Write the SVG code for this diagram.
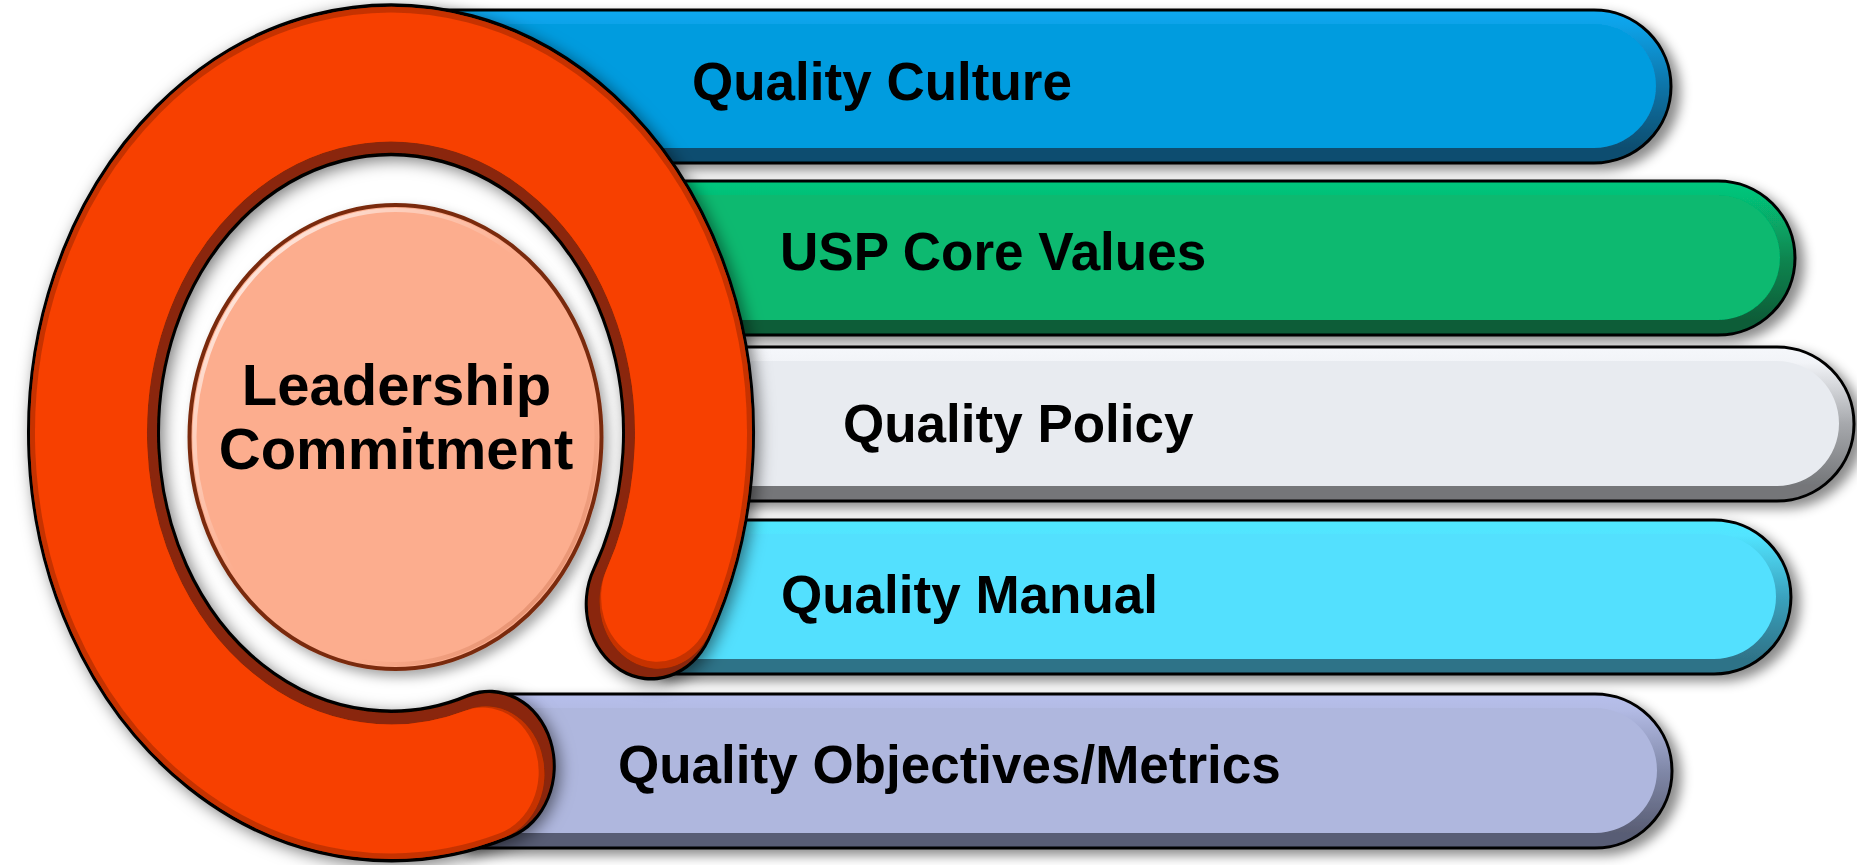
<svg xmlns="http://www.w3.org/2000/svg" width="1857" height="865" viewBox="0 0 1857 865">
<defs>
<style>
.lbl{font-family:"Liberation Sans",Arial,sans-serif;font-weight:bold;font-size:53px;fill:#000}
.ctr{font-family:"Liberation Sans",Arial,sans-serif;font-weight:bold;font-size:58px;fill:#000;text-anchor:middle}
.out{stroke:#000;stroke-width:3}
.ring{fill:none;stroke-linecap:round}
</style>
<filter id="sh" x="-10%" y="-20%" width="125%" height="150%"><feDropShadow dx="8" dy="6" stdDeviation="6" flood-color="#000" flood-opacity="0.45"/></filter>
<filter id="rsh" x="-15%" y="-15%" width="135%" height="135%"><feDropShadow dx="4" dy="4" stdDeviation="8" flood-color="#000" flood-opacity="0.5"/></filter>
<filter id="csh" x="-15%" y="-15%" width="135%" height="135%"><feDropShadow dx="5" dy="6" stdDeviation="6" flood-color="#000" flood-opacity="0.35"/></filter>
<linearGradient id="g1" x1="0" y1="0" x2="0" y2="1"><stop offset="0" stop-color="#0AA9F2"/><stop offset="0.1" stop-color="#08A2E8"/><stop offset="0.5" stop-color="#0A74A8"/><stop offset="0.9" stop-color="#0B4E70"/><stop offset="1" stop-color="#0B4E70"/></linearGradient>
<linearGradient id="g2" x1="0" y1="0" x2="0" y2="1"><stop offset="0" stop-color="#06C77D"/><stop offset="0.1" stop-color="#06C077"/><stop offset="0.5" stop-color="#088650"/><stop offset="0.9" stop-color="#085D38"/><stop offset="1" stop-color="#085D38"/></linearGradient>
<linearGradient id="g3" x1="0" y1="0" x2="0" y2="1"><stop offset="0" stop-color="#F5F7FB"/><stop offset="0.1" stop-color="#F2F4F8"/><stop offset="0.5" stop-color="#A6A8AC"/><stop offset="0.9" stop-color="#747679"/><stop offset="1" stop-color="#747679"/></linearGradient>
<linearGradient id="g4" x1="0" y1="0" x2="0" y2="1"><stop offset="0" stop-color="#50E9FF"/><stop offset="0.1" stop-color="#52E4FF"/><stop offset="0.5" stop-color="#3AA2BE"/><stop offset="0.9" stop-color="#2F7388"/><stop offset="1" stop-color="#2F7388"/></linearGradient>
<linearGradient id="g5" x1="0" y1="0" x2="0" y2="1"><stop offset="0" stop-color="#B7BFEC"/><stop offset="0.1" stop-color="#B3BBE5"/><stop offset="0.5" stop-color="#8088A8"/><stop offset="0.9" stop-color="#595D74"/><stop offset="1" stop-color="#595D74"/></linearGradient>
<linearGradient id="hl" x1="0" y1="0" x2="1" y2="1"><stop offset="0" stop-color="#FFFFFF" stop-opacity="0.95"/><stop offset="0.45" stop-color="#FFFFFF" stop-opacity="0"/><stop offset="0.7" stop-color="#B0502A" stop-opacity="0"/><stop offset="1" stop-color="#B0502A" stop-opacity="0.5"/></linearGradient>
</defs>
<rect width="1857" height="865" fill="#FFFFFF"/>

<g id="bar-quality-culture" filter="url(#sh)">
<path class="out" d="M395,10 H1594 A77,76.5 0 0 1 1594,163 H395 Z" fill="url(#g1)"/>
<path d="M395,24 H1594 A62,62 0 0 1 1594,148 H395 Z" fill="#069CDF"/>
<text class="lbl" x="692" y="100">Quality Culture</text>
</g>
<g id="bar-usp-core-values" filter="url(#sh)">
<path class="out" d="M640,181 H1718 A77,77 0 0 1 1718,335 H640 Z" fill="url(#g2)"/>
<path d="M640,195 H1718 A62,62.5 0 0 1 1718,320 H640 Z" fill="#07B970"/>
<text class="lbl" x="780" y="270">USP Core Values</text>
</g>
<g id="bar-quality-policy" filter="url(#sh)">
<path class="out" d="M660,347 H1777 A77,77 0 0 1 1777,501 H660 Z" fill="url(#g3)"/>
<path d="M660,361 H1777 A62,62.5 0 0 1 1777,486 H660 Z" fill="#E8EBF0"/>
<text class="lbl" x="843" y="442">Quality Policy</text>
</g>
<g id="bar-quality-manual" filter="url(#sh)">
<path class="out" d="M655,520 H1714 A77,77 0 0 1 1714,674 H655 Z" fill="url(#g4)"/>
<path d="M655,534 H1714 A62,62.5 0 0 1 1714,659 H655 Z" fill="#53E0FE"/>
<text class="lbl" x="781" y="613">Quality Manual</text>
</g>
<g id="bar-quality-objectives" filter="url(#sh)">
<path class="out" d="M460,694 H1595 A77,77 0 0 1 1595,848 H460 Z" fill="url(#g5)"/>
<path d="M460,708 H1595 A62,62.5 0 0 1 1595,833 H460 Z" fill="#AFB7DE"/>
<text class="lbl" x="618" y="783">Quality Objectives/Metrics</text>
</g>

<ellipse id="ring-interior" cx="391" cy="433" rx="238" ry="285" fill="#FFFFFF"/>

<g id="leadership-ring" filter="url(#rsh)">
<g transform="scale(1,1.15)">
<path class="ring" d="M489.3,666.2 A297.5,307 0 1 1 651.2,525.3" stroke="#000" stroke-width="133"/>
<path class="ring" d="M489.3,666.2 A297.5,307 0 1 1 651.2,525.3" stroke="#8A2808" stroke-width="127"/>
<path class="ring" d="M486,672.7 A302.5,312 0 1 1 658.1,523" stroke="#C63300" stroke-width="117"/>
<path class="ring" d="M482.7,671.2 A300,309.5 0 1 1 657.1,519.4" stroke="#F74003" stroke-width="112"/>
</g>
</g>

<g id="leadership-commitment" filter="url(#csh)">
<ellipse cx="395.5" cy="437" rx="206" ry="232" fill="#FCAD8E" stroke="#7A2C10" stroke-width="4"/>
<ellipse cx="395.5" cy="437" rx="201" ry="227" fill="none" stroke="url(#hl)" stroke-width="4"/>
<text class="ctr" x="396.5" y="405">Leadership</text>
<text class="ctr" x="396" y="469">Commitment</text>
</g>
</svg>
